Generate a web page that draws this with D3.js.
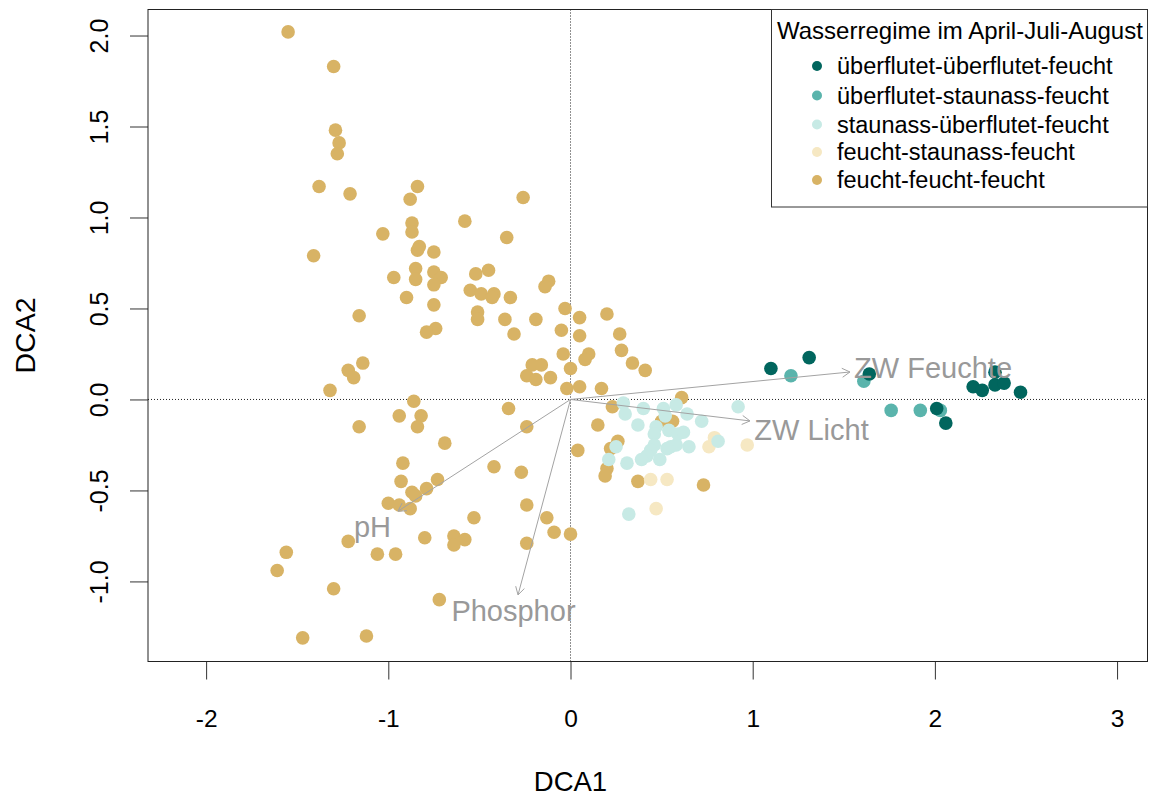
<!DOCTYPE html>
<html>
<head>
<meta charset="utf-8">
<script src="https://cdn.jsdelivr.net/npm/d3@7"></script>
<style>
  body { margin: 0; background: #ffffff; }
  svg { display: block; }
  text { font-family: "Liberation Sans", Arial, sans-serif; }
</style>
</head>
<body>
<svg id="chart" width="1149" height="798"></svg>
<script>
// DCA site scores (DCA1, DCA2), one array per water regime group
const feuchtFeuchtFeucht = [
  [-1.55, 2.02], [-1.30, 1.83], [-1.29, 1.48], [-1.27, 1.41], [-1.28, 1.35],
  [-1.38, 1.17], [-1.21, 1.13], [-0.84, 1.17], [-0.88, 1.10], [-0.87, 0.97],
  [-0.87, 0.92], [-1.03, 0.91], [-1.41, 0.79], [-0.83, 0.84], [-0.84, 0.82],
  [-0.75, 0.81], [-0.58, 0.98], [-0.85, 0.72], [-0.75, 0.70], [-0.71, 0.67],
  [-0.97, 0.67], [-0.85, 0.66], [-0.75, 0.63], [-0.90, 0.56], [-0.75, 0.52],
  [-1.16, 0.46], [-0.74, 0.39], [-0.79, 0.37], [-1.14, 0.20], [-1.22, 0.16],
  [-1.19, 0.12], [-1.32, 0.05], [-0.86, -0.01], [-0.94, -0.09], [-0.82, -0.09],
  [-0.84, -0.15], [-1.16, -0.15], [-0.69, -0.24], [-0.92, -0.35], [-0.93, -0.45],
  [-0.73, -0.44], [-0.79, -0.49], [-0.87, -0.51], [-0.85, -0.53], [-1.00, -0.57],
  [-0.94, -0.58], [-0.88, -0.60], [-0.53, -0.65], [-1.22, -0.78], [-0.80, -0.76],
  [-0.64, -0.75], [-0.58, -0.77], [-0.64, -0.80], [-1.56, -0.84], [-1.61, -0.94],
  [-1.06, -0.85], [-0.96, -0.85], [-1.30, -1.04], [-0.72, -1.10], [-1.47, -1.31],
  [-1.12, -1.30],
  [-0.26, 1.11], [-0.35, 0.89], [-0.52, 0.69], [-0.45, 0.71], [-0.12, 0.65],
  [-0.14, 0.62], [-0.55, 0.60], [-0.49, 0.58], [-0.42, 0.58], [-0.43, 0.56],
  [-0.33, 0.56], [-0.51, 0.48], [-0.51, 0.44], [-0.36, 0.44], [-0.19, 0.44],
  [-0.03, 0.50], [0.05, 0.45], [0.20, 0.47], [-0.31, 0.36], [-0.05, 0.38],
  [0.05, 0.35], [0.27, 0.36], [0.28, 0.27], [-0.04, 0.25], [0.10, 0.25],
  [0.08, 0.22], [0.34, 0.20], [0.41, 0.16], [-0.21, 0.19], [-0.16, 0.19],
  [-0.24, 0.13], [-0.19, 0.11], [-0.11, 0.12], [0.00, 0.17], [-0.02, 0.06],
  [0.05, 0.07], [0.17, 0.06], [-0.34, -0.05], [0.23, -0.04], [0.61, 0.01],
  [-0.24, -0.15], [0.15, -0.14], [0.26, -0.23], [0.22, -0.27], [0.20, -0.38],
  [0.19, -0.42], [0.04, -0.28], [-0.42, -0.37], [-0.27, -0.40], [-0.24, -0.58],
  [-0.13, -0.65], [-0.09, -0.73], [0.00, -0.74], [-0.24, -0.79], [0.37, -0.45],
  [0.73, -0.47], [0.50, -0.12], [0.56, -0.12]
];
const feuchtStaunassFeucht = [
  [0.79, -0.21], [0.76, -0.26], [0.97, -0.25], [0.44, -0.44], [0.53, -0.44],
  [0.47, -0.60]
];
const staunassUeberflutetFeucht = [
  [0.29, -0.02], [0.30, -0.08], [0.40, -0.05], [0.51, -0.05], [0.52, -0.09],
  [0.58, -0.03], [0.64, -0.08], [0.72, -0.12], [0.92, -0.04], [0.37, -0.14],
  [0.47, -0.15], [0.46, -0.19], [0.54, -0.17], [0.59, -0.19], [0.62, -0.18],
  [0.81, -0.23], [0.46, -0.25], [0.44, -0.28], [0.42, -0.31], [0.39, -0.33],
  [0.55, -0.26], [0.58, -0.25], [0.53, -0.27], [0.65, -0.26], [0.25, -0.26],
  [0.21, -0.33], [0.31, -0.35], [0.49, -0.33], [0.32, -0.63]
];
const ueberflutetStaunassFeucht = [
  [1.21, 0.13], [1.61, 0.10], [1.76, -0.06], [1.92, -0.06], [2.03, -0.06]
];
const ueberflutetUeberflutetFeucht = [
  [1.10, 0.17], [1.31, 0.23], [1.64, 0.14], [2.33, 0.15], [2.21, 0.07],
  [2.26, 0.05], [2.33, 0.08], [2.38, 0.09], [2.47, 0.04], [2.01, -0.05],
  [2.06, -0.13]
];

// Legend order (top to bottom) and colours (BrBG)
const groupNames = [
  "überflutet-überflutet-feucht",
  "überflutet-staunass-feucht",
  "staunass-überflutet-feucht",
  "feucht-staunass-feucht",
  "feucht-feucht-feucht"
];
const groupColors = ["#01665E", "#5AB4AC", "#C7EAE5", "#F6E8C3", "#D8B365"];
const groupPoints = [
  ueberflutetUeberflutetFeucht,
  ueberflutetStaunassFeucht,
  staunassUeberflutetFeucht,
  feuchtStaunassFeucht,
  feuchtFeuchtFeucht
];
const legendTitle = "Wasserregime im April-Juli-August";

// Fitted environmental vectors (arrow tip) and label anchors
const envNames = ["ZW Feuchte", "ZW Licht", "pH", "Phosphor"];
const envTips = [[1.534, 0.151], [0.985, -0.118], [-0.947, -0.614], [-0.288, -1.074]];
const envLabels = [[1.99, 0.173], [1.323, -0.168], [-1.087, -0.701], [-0.313, -1.162]];

// Axes
const xTicks = [-2, -1, 0, 1, 2, 3];
const xTickLabels = ["-2", "-1", "0", "1", "2", "3"];
const yTicks = [-1, -0.5, 0, 0.5, 1, 1.5, 2];
const yTickLabels = ["-1.0", "-0.5", "0.0", "0.5", "1.0", "1.5", "2.0"];
const xTitle = "DCA1";
const yTitle = "DCA2";
const xDomain = [-2.319, 3.167];
const yDomain = [-1.44, 2.143];

(function draw() {
  const svg = d3.select("#chart");
  const pl = 148, pr = 1147.5, pt = 9.5, pb = 661.5;

  const x = d3.scaleLinear().domain(xDomain).range([pl, pr]);
  const y = d3.scaleLinear().domain(yDomain).range([pb, pt]);

  // Zero reference lines
  const ref = svg.append("g").attr("stroke", "#222").attr("stroke-width", 1)
    .attr("stroke-dasharray", "1,2");
  ref.append("line").attr("x1", x(0)).attr("x2", x(0)).attr("y1", pt).attr("y2", pb);
  ref.append("line").attr("x1", pl).attr("x2", pr).attr("y1", y(0)).attr("y2", y(0));

  // Site points
  const pts = svg.append("g");
  [4, 3, 2, 1, 0].forEach(gi => {
    pts.selectAll(null).data(groupPoints[gi]).enter().append("circle")
      .attr("cx", d => x(d[0]))
      .attr("cy", d => y(d[1]))
      .attr("r", 6.8)
      .attr("fill", groupColors[gi]);
  });

  // Environmental arrows
  const arr = svg.append("g").attr("stroke", "#a3a3a3").attr("stroke-width", 1).attr("fill", "none");
  envTips.forEach(t => {
    const x0 = x(0), y0 = y(0), x1 = x(t[0]), y1 = y(t[1]);
    arr.append("line").attr("x1", x0).attr("y1", y0).attr("x2", x1).attr("y2", y1);
    const ang = Math.atan2(y1 - y0, x1 - x0);
    const hl = 9, ha = Math.PI / 6;
    const p = d3.path();
    p.moveTo(x1 - hl * Math.cos(ang - ha), y1 - hl * Math.sin(ang - ha));
    p.lineTo(x1, y1);
    p.lineTo(x1 - hl * Math.cos(ang + ha), y1 - hl * Math.sin(ang + ha));
    arr.append("path").attr("d", p.toString());
  });
  svg.append("g").selectAll("text").data(envNames).enter().append("text")
    .attr("x", (d, i) => x(envLabels[i][0]))
    .attr("y", (d, i) => y(envLabels[i][1]))
    .attr("dy", "0.36em")
    .attr("text-anchor", "middle")
    .attr("font-size", 29)
    .attr("fill", "#999999")
    .text(d => d);

  // Axes
  const xAxis = svg.append("g").attr("transform", `translate(0,${pb})`)
    .call(d3.axisBottom(x).tickValues(xTicks).tickSize(18)
      .tickFormat((d, i) => xTickLabels[i]));
  xAxis.select(".domain").remove();
  xAxis.selectAll(".tick line").attr("stroke", "#333");
  xAxis.selectAll(".tick text").attr("y", 65).attr("dy", 0)
    .attr("font-size", 24.5).attr("fill", "#000").attr("font-family", "Liberation Sans, Arial, sans-serif");

  const yAxis = svg.append("g").attr("transform", `translate(${pl},0)`)
    .call(d3.axisLeft(y).tickValues(yTicks).tickSize(18)
      .tickFormat((d, i) => yTickLabels[i]));
  yAxis.select(".domain").remove();
  yAxis.selectAll(".tick line").attr("stroke", "#333");
  yAxis.selectAll(".tick text")
    .attr("transform", "rotate(-90)")
    .attr("x", 0).attr("y", -40).attr("dy", 0)
    .attr("text-anchor", "middle")
    .attr("font-size", 25).attr("fill", "#000").attr("font-family", "Liberation Sans, Arial, sans-serif");

  // Plot frame
  svg.append("rect").attr("x", pl).attr("y", pt)
    .attr("width", pr - pl).attr("height", pb - pt)
    .attr("fill", "none").attr("stroke", "#222").attr("stroke-width", 1);

  // Axis titles
  svg.append("text").attr("x", x(0)).attr("y", 791)
    .attr("text-anchor", "middle").attr("font-size", 27.5).attr("fill", "#000").text(xTitle);
  svg.append("text")
    .attr("transform", `translate(35,${(pt + pb) / 2}) rotate(-90)`)
    .attr("text-anchor", "middle").attr("font-size", 28.5).attr("fill", "#000").text(yTitle);

  // Legend
  const lg = svg.append("g");
  lg.append("rect").attr("x", 771.5).attr("y", pt).attr("width", 376).attr("height", 197.5)
    .attr("fill", "#fff").attr("stroke", "#333").attr("stroke-width", 1);
  lg.append("text").attr("x", 777).attr("y", 39).attr("font-size", 24).attr("fill", "#000").text(legendTitle);
  const rows = [66, 95.5, 124.5, 152, 180];
  groupNames.forEach((name, i) => {
    lg.append("circle").attr("cx", 817).attr("cy", rows[i]).attr("r", 5).attr("fill", groupColors[i]);
    lg.append("text").attr("x", 837).attr("y", rows[i] + 8).attr("font-size", 23.5).attr("fill", "#000").text(name);
  });
})();
</script>
</body>
</html>
